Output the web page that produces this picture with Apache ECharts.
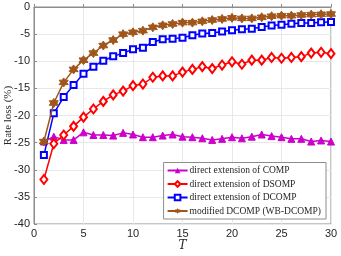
<!DOCTYPE html>
<html>
<head>
<meta charset="utf-8">
<script src="https://cdn.jsdelivr.net/npm/echarts@6/dist/echarts.min.js"></script>
<style>html,body{margin:0;padding:0;background:#fff}#c{width:341px;height:256px}</style>
</head>
<body>
<div id="c"></div>
<script>
var T = [];
for (var i = 1; i <= 30; i++) T.push(i);
var xTicks = [0, 5, 10, 15, 20, 25, 30];
var yTicks = [0, -5, -10, -15, -20, -25, -30, -35, -40];
var seriesNames = ['direct extension of COMP', 'direct extension of DSOMP', 'direct extension of DCOMP', 'modified DCOMP (WB-DCOMP)'];
var comp = [-24.8, -23.9, -24.5, -24.5, -23.1, -23.6, -23.6, -23.7, -23.2, -23.5, -24.0, -24.0, -23.7, -23.5, -23.9, -24.0, -24.2, -24.5, -24.3, -24.0, -24.2, -23.9, -23.5, -23.8, -24.0, -24.3, -24.3, -24.8, -24.6, -24.8];
var dsomp = [-31.8, -25.2, -23.6, -22.0, -20.3, -18.8, -17.4, -16.2, -15.5, -14.5, -14.2, -12.95, -12.7, -12.7, -12.0, -11.5, -11.0, -11.35, -10.7, -10.1, -10.55, -9.8, -9.8, -9.3, -9.45, -9.3, -9.15, -8.5, -8.35, -8.6];
var dcomp = [-27.3, -19.6, -16.6, -14.4, -12.3, -11.0, -9.9, -9.1, -8.5, -7.8, -7.5, -6.45, -5.95, -5.83, -5.65, -5.2, -4.9, -4.8, -4.5, -4.3, -4.1, -4.0, -3.7, -3.4, -3.25, -3.1, -2.95, -2.95, -2.8, -2.76];
var wbdcomp = [-24.8, -17.7, -13.9, -11.5, -9.8, -8.5, -7.1, -6.1, -5.0, -4.67, -4.36, -3.75, -3.38, -3.13, -2.88, -2.88, -2.64, -2.4, -2.2, -2.0, -2.1, -2.1, -1.9, -1.7, -1.6, -1.6, -1.47, -1.4, -1.35, -1.3];

function pairs(arr){ return arr.map(function(v,i){ return [T[i], v]; }); }
var hexagram = 'path://M0,-10 L2.89,-5 L8.66,-5 L5.77,0 L8.66,5 L2.89,5 L0,10 L-2.89,5 L-8.66,5 L-5.77,0 L-8.66,-5 L-2.89,-5 Z';
var colors = ['#cc00cc', '#ff0000', '#0000ff', '#a0561a'];

var chart = echarts.init(document.getElementById('c'));
chart.setOption({
  animation: false,
  backgroundColor: '#fff',
  grid: { left: 34, right: 10, top: 7, bottom: 32, containLabel: false, outerBoundsMode: 'none',
    show: true, borderColor: '#8c8c8c', borderWidth: 1, backgroundColor: 'transparent' },
  xAxis: {
    type: 'value', min: 0, max: 30, interval: 5,
    name: 'T', nameLocation: 'middle', nameGap: 16, nameMoveOverlap: false,
    nameTextStyle: { fontFamily: 'DejaVu Serif', fontStyle: 'italic', fontSize: 12, color: '#262626' },
    axisLine: { show: true, lineStyle: { color: '#8c8c8c' } },
    axisTick: { show: true, inside: true, length: 3, lineStyle: { color: '#8c8c8c' } },
    axisLabel: { fontFamily: 'Liberation Sans', fontSize: 11, color: '#262626', margin: 4,
      formatter: function(v){ return xTicks.indexOf(v) >= 0 ? String(v) : ''; } },
    splitLine: { show: true, lineStyle: { color: '#e8e8e8', width: 1 } }
  },
  yAxis: {
    type: 'value', min: -40, max: 0, interval: 5,
    name: 'Rate loss (%)', nameLocation: 'middle', nameGap: 20, nameRotate: 90, nameMoveOverlap: false,
    nameTextStyle: { fontFamily: 'Liberation Serif', fontSize: 11, color: '#262626' },
    axisLine: { show: true, lineStyle: { color: '#8c8c8c' } },
    axisTick: { show: true, inside: true, length: 3, lineStyle: { color: '#8c8c8c' } },
    axisLabel: { fontFamily: 'Liberation Sans', fontSize: 11, color: '#262626', margin: 4,
      formatter: function(v){ return yTicks.indexOf(v) >= 0 ? String(v) : ''; } },
    splitLine: { show: true, lineStyle: { color: '#e8e8e8', width: 1 } }
  },
  legend: {
    right: 15, bottom: 37, orient: 'vertical',
    itemWidth: 20, itemHeight: 7, itemGap: 3.5,
    padding: [3, 5, 3, 3],
    backgroundColor: '#fff', borderColor: '#8c8c8c', borderWidth: 1,
    textStyle: { fontFamily: 'Liberation Serif', fontSize: 9.5, color: '#262626', padding: [0, 0, 0, -3] },
    data: seriesNames
  },
  series: [
    { name: seriesNames[0], type: 'line', data: pairs(comp), color: colors[0], symbol: 'triangle', symbolSize: 7,
      lineStyle: { width: 1.5, color: colors[0] }, itemStyle: { color: colors[0], borderColor: colors[0] }, z: 2 },
    { name: seriesNames[1], type: 'line', data: pairs(dsomp), color: colors[1], symbol: 'diamond', symbolSize: [7, 9],
      lineStyle: { width: 1.5, color: colors[1] }, itemStyle: { color: '#fff', borderColor: colors[1], borderWidth: 2 }, z: 3 },
    { name: seriesNames[2], type: 'line', data: pairs(dcomp), color: colors[2], symbol: 'rect', symbolSize: 6,
      lineStyle: { width: 1.5, color: colors[2] }, itemStyle: { color: '#fff', borderColor: colors[2], borderWidth: 2 }, z: 4 },
    { name: seriesNames[3], type: 'line', data: pairs(wbdcomp), color: colors[3], symbol: hexagram, symbolSize: 9,
      lineStyle: { width: 1.5, color: colors[3] }, itemStyle: { color: colors[3], borderColor: colors[3] }, z: 5 }
  ]
});
</script>
</body>
</html>
